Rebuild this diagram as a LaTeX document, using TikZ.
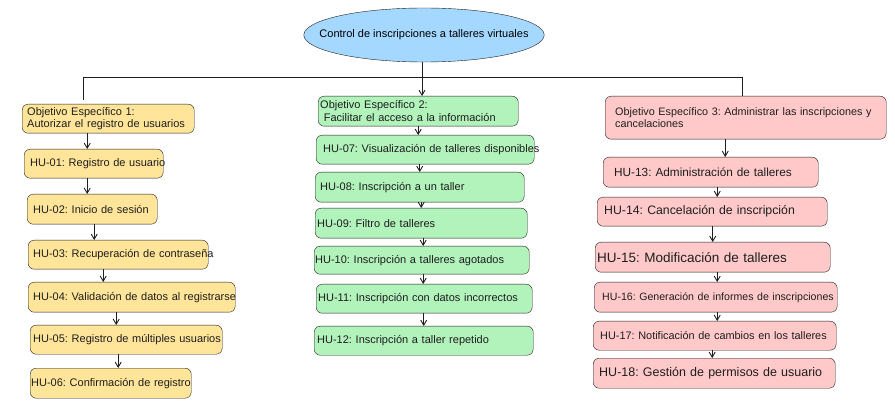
\documentclass[tikz,border=0pt]{standalone}
\usepackage{fontspec}
\setmainfont{Liberation Sans}
\usetikzlibrary{shapes.geometric,arrows.meta}
\definecolor{ink}{HTML}{1E1E1E}
\definecolor{rootblue}{HTML}{A5D8FF}
\definecolor{objyellow}{HTML}{FFE599}
\definecolor{objgreen}{HTML}{B2F2BB}
\definecolor{objpink}{HTML}{FFC9C9}
\frenchspacing
\begin{document}
\begin{tikzpicture}[x=1pt,y=-1pt,
root/.style={draw=ink,ellipse,fill=rootblue,inner sep=0pt,minimum height=54,font=\fontsize{11}{13}\selectfont,
  execute at begin node={\hbox to 170pt\bgroup\hss},execute at end node={\hss\egroup}},
box/.style={draw=ink,rounded corners=6pt,anchor=north west,align=left,inner ysep=2pt,text=ink,font=\fontsize{11}{12.5}\selectfont},
hu/.style={box,execute at begin node={\hbox\bgroup},execute at end node={\egroup}},
yel/.style={fill=objyellow},
grn/.style={fill=objgreen},
pnk/.style={fill=objpink},
lnk/.style={draw=ink,line width=0.9pt},
arw/.style={lnk,-{Straight Barb[length=5pt,width=6pt]}}
]
\useasboundingbox(0,0)rectangle(895,414);
%\draw[help lines,step=50](0,0)grid(895,414);

\node[root]at(424,35)(root){Control de inscripciones a talleres virtuales};
\coordinate(barL)at(83,77);
\coordinate(barR)at(742,77);

% objetivos
\node[box,yel,text width=162pt,inner xsep=5pt,minimum height=29]at(22,104)(obj1){Objetivo Específico 1:\\Autorizar el registro de usuarios};
\node[box,grn,text width=196pt,inner xsep=2pt,minimum height=30]at(318,96)(obj2){Objetivo Específico 2:\\\ Facilitar el acceso a la información};
\node[box,pnk,text width=261pt,inner xsep=10pt,minimum height=43,font=\fontsize{10.8}{12.5}\selectfont]at(605,96)(obj3){Objetivo Específico 3: Administrar las inscripciones y\\cancelaciones\\[4pt]};

\draw[lnk]([yshift=4]obj1.north -| barL)--(barL)--(barR)--(obj3.north -| barR);
\draw[arw]([xshift=-2]root.south)--([xshift=-2]root.south |- obj2.north);

% columna 1
\node[hu,yel,text width=127pt,inner xsep=6pt,minimum height=29]at(24,149)(hu01){HU-01: Registro de usuario};
\node[hu,yel,text width=118pt,inner xsep=6pt,minimum height=30]at(27,194)(hu02){HU-02: Inicio de sesión};
\node[hu,yel,text width=170pt,inner xsep=5pt,minimum height=29]at(28,240)(hu03){HU-03: Recuperación de contraseña};
\node[hu,yel,text width=197pt,inner xsep=5pt,minimum height=30]at(28,282)(hu04){HU-04: Validación de datos al registrarse};
\node[hu,yel,text width=186pt,inner xsep=3pt,minimum height=29]at(30,325)(hu05){HU-05: Registro de múltiples usuarios};
\node[hu,yel,text width=159pt,inner xsep=1pt,minimum height=30]at(30,368)(hu06){HU-06: Confirmación de registro};
\draw[arw]([xshift=-6.5]hu01.north |- obj1.south)--([xshift=-6.5]hu01.north);
\draw[arw]([xshift=-5]hu02.north |- hu01.south)--([xshift=-5]hu02.north);
\draw[arw]([xshift=-24]hu03.north |- hu02.south)--([xshift=-24]hu03.north);
\draw[arw]([xshift=-28.5]hu04.north |- hu03.south)--([xshift=-28.5]hu04.north);
\draw[arw]([xshift=-10]hu05.north |- hu04.south)--([xshift=-10]hu05.north);
\draw[arw]([xshift=7.5]hu06.north |- hu05.south)--([xshift=7.5]hu06.north);

% columna 2
\node[hu,grn,text width=204pt,inner xsep=7pt,minimum height=29]at(316,135)(hu07){HU-07: Visualización de talleres disponibles};
\node[hu,grn,text width=199pt,inner xsep=5pt,minimum height=30]at(315,172)(hu08){HU-08: Inscripción a un taller};
\node[hu,grn,text width=208pt,inner xsep=2pt,minimum height=30]at(315,208)(hu09){HU-09: Filtro de talleres};
\node[hu,grn,text width=213pt,inner xsep=1pt,minimum height=28]at(314,246)(hu10){HU-10: Inscripción a talleres agotados};
\node[hu,grn,text width=212pt,inner xsep=2pt,minimum height=29]at(316,284)(hu11){HU-11: Inscripción con datos incorrectos};
\node[hu,grn,text width=213pt,inner xsep=3pt,minimum height=29]at(314,326)(hu12){HU-12: Inscripción a taller repetido};
\draw[arw]([xshift=-7]hu07.north |- obj2.south)--([xshift=-7]hu07.north);
\draw[arw](hu08.north |- hu07.south)--(hu08.north);
\draw[arw](hu09.north |- hu08.south)--(hu09.north);
\draw[arw]([xshift=1.5]hu10.north |- hu09.south)--([xshift=1.5]hu10.north);
\draw[arw]([xshift=-1]hu11.north |- hu10.south)--([xshift=-1]hu11.north);
\draw[arw](hu12.north |- hu11.south)--(hu12.north);

% columna 3
\node[hu,pnk,text width=193pt,inner xsep=11pt,minimum height=30,font=\fontsize{11.8}{13}\selectfont]at(603,157)(hu13){HU-13: Administración de talleres};
\node[hu,pnk,text width=216pt,inner xsep=7pt,minimum height=29,font=\fontsize{12.3}{14}\selectfont]at(597,197)(hu14){HU-14: Cancelación de inscripción};
\node[hu,pnk,text width=231pt,inner xsep=2pt,minimum height=30,font=\fontsize{13.5}{15}\selectfont]at(595,242)(hu15){HU-15: Modificación de talleres};
\node[hu,pnk,text width=227pt,inner xsep=8pt,minimum height=30,font=\fontsize{10.6}{12}\selectfont]at(594,282)(hu16){HU-16: Generación de informes de inscripciones};
\node[hu,pnk,text width=229pt,inner xsep=7pt,minimum height=29,font=\fontsize{10.9}{12}\selectfont]at(593,321)(hu17){HU-17: Notificación de cambios en los talleres};
\node[hu,pnk,text width=230pt,inner xsep=6pt,minimum height=30,font=\fontsize{12.5}{14}\selectfont]at(593,358)(hu18){HU-18: Gestión de permisos de usuario};
\draw[arw]([xshift=14.5]hu13.north |- obj3.south)--([xshift=14.5]hu13.north);
\draw[arw]([xshift=5]hu14.north |- hu13.south)--([xshift=5]hu14.north);
\draw[arw](hu15.north |- hu14.south)--(hu15.north);
\draw[arw]([xshift=1.5]hu16.north |- hu15.south)--([xshift=1.5]hu16.north);
\draw[arw]([xshift=2.5]hu17.north |- hu16.south)--([xshift=2.5]hu17.north);
\draw[arw]([xshift=-2]hu18.north |- hu17.south)--([xshift=-2]hu18.north);

\end{tikzpicture}
\end{document}
